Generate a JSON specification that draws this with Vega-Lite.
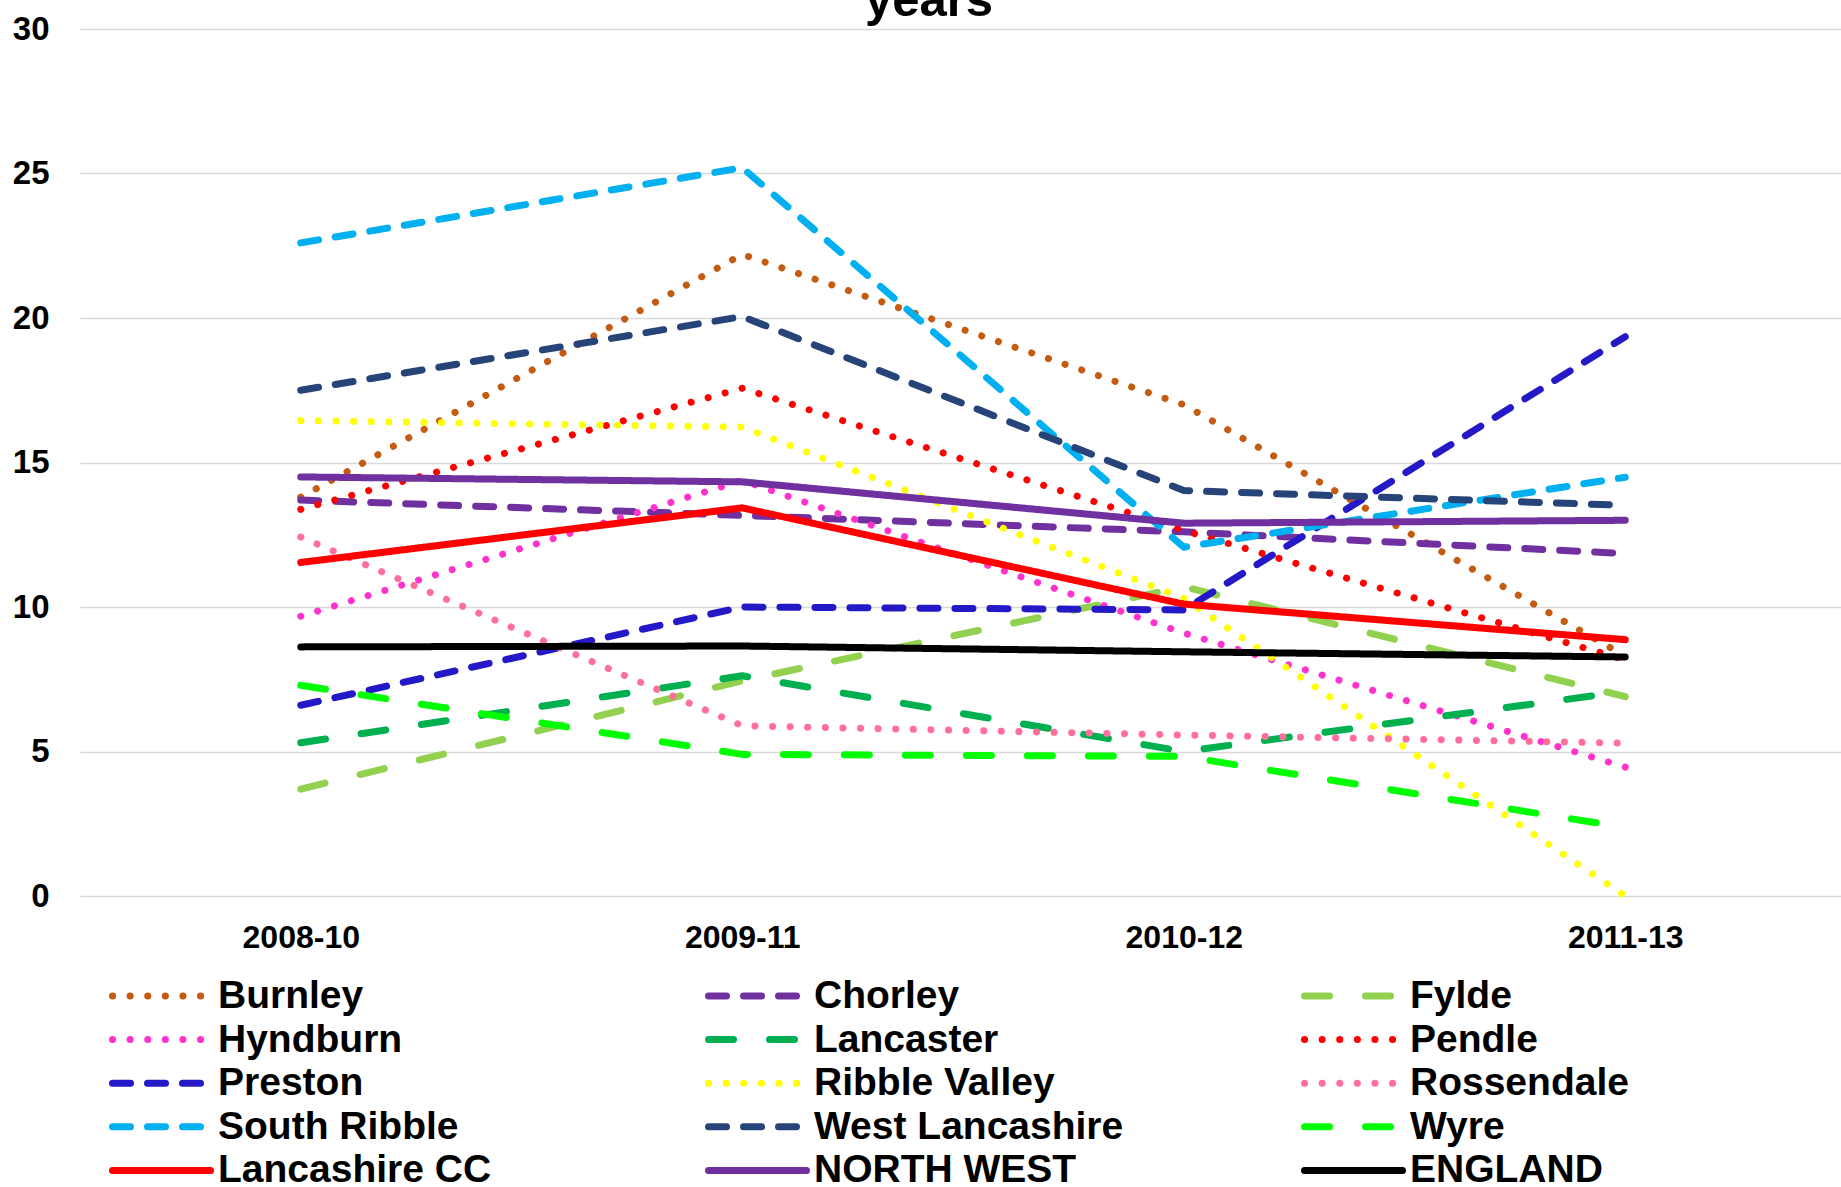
{
  "$schema": "https://vega.github.io/schema/vega-lite/v6.json",
  "width": 1766,
  "height": 867,
  "autosize": {"type": "none"},
  "padding": {"left": 80, "top": 29, "right": 0, "bottom": 291},
  "background": "white",
  "title": {"text": "years", "fontSize": 49, "font": "Liberation Sans", "fontWeight": "bold", "color": "black", "offset": -13, "dx": -34, "anchor": "middle"},
  "config": {
    "view": {"stroke": null},
    "font": "Liberation Sans",
    "legend": {
      "orient": "none",
      "direction": "horizontal",
      "legendX": 29,
      "legendY": 947,
      "columns": 3,
      "symbolType": "stroke",
      "symbolSize": 9604,
      "symbolStrokeWidth": 7,
      "labelFontSize": 39,
      "labelFont": "Liberation Sans",
      "labelFontWeight": "bold",
      "labelColor": "black",
      "labelOffset": 4,
      "columnPadding": 166,
      "rowPadding": 3.6,
      "gridAlign": "all",
      "labelLimit": 0,
      "title": null
    }
  },
  "data": {
    "values": [
      {"series": "Burnley", "period": "2008-10", "value": 13.8},
      {"series": "Burnley", "period": "2009-11", "value": 22.2},
      {"series": "Burnley", "period": "2010-12", "value": 17.0},
      {"series": "Burnley", "period": "2011-13", "value": 8.3},
      {"series": "Chorley", "period": "2008-10", "value": 13.7},
      {"series": "Chorley", "period": "2009-11", "value": 13.17},
      {"series": "Chorley", "period": "2010-12", "value": 12.6},
      {"series": "Chorley", "period": "2011-13", "value": 11.85},
      {"series": "Fylde", "period": "2008-10", "value": 3.7},
      {"series": "Fylde", "period": "2009-11", "value": 7.45},
      {"series": "Fylde", "period": "2010-12", "value": 10.7},
      {"series": "Fylde", "period": "2011-13", "value": 6.9},
      {"series": "Hyndburn", "period": "2008-10", "value": 9.68},
      {"series": "Hyndburn", "period": "2009-11", "value": 14.38},
      {"series": "Hyndburn", "period": "2010-12", "value": 9.1},
      {"series": "Hyndburn", "period": "2011-13", "value": 4.46},
      {"series": "Lancaster", "period": "2008-10", "value": 5.3},
      {"series": "Lancaster", "period": "2009-11", "value": 7.62},
      {"series": "Lancaster", "period": "2010-12", "value": 5.0},
      {"series": "Lancaster", "period": "2011-13", "value": 7.08},
      {"series": "Pendle", "period": "2008-10", "value": 13.38},
      {"series": "Pendle", "period": "2009-11", "value": 17.57},
      {"series": "Pendle", "period": "2010-12", "value": 12.65},
      {"series": "Pendle", "period": "2011-13", "value": 8.17},
      {"series": "Preston", "period": "2008-10", "value": 6.6},
      {"series": "Preston", "period": "2009-11", "value": 10.0},
      {"series": "Preston", "period": "2010-12", "value": 9.9},
      {"series": "Preston", "period": "2011-13", "value": 19.35},
      {"series": "Ribble Valley", "period": "2008-10", "value": 16.45},
      {"series": "Ribble Valley", "period": "2009-11", "value": 16.23},
      {"series": "Ribble Valley", "period": "2010-12", "value": 10.3},
      {"series": "Ribble Valley", "period": "2011-13", "value": 0.0},
      {"series": "Rossendale", "period": "2008-10", "value": 12.42},
      {"series": "Rossendale", "period": "2009-11", "value": 5.89},
      {"series": "Rossendale", "period": "2010-12", "value": 5.57},
      {"series": "Rossendale", "period": "2011-13", "value": 5.29},
      {"series": "South Ribble", "period": "2008-10", "value": 22.6},
      {"series": "South Ribble", "period": "2009-11", "value": 25.2},
      {"series": "South Ribble", "period": "2010-12", "value": 12.07},
      {"series": "South Ribble", "period": "2011-13", "value": 14.49},
      {"series": "West Lancashire", "period": "2008-10", "value": 17.5},
      {"series": "West Lancashire", "period": "2009-11", "value": 20.05},
      {"series": "West Lancashire", "period": "2010-12", "value": 14.03},
      {"series": "West Lancashire", "period": "2011-13", "value": 13.52},
      {"series": "Wyre", "period": "2008-10", "value": 7.29},
      {"series": "Wyre", "period": "2009-11", "value": 4.9},
      {"series": "Wyre", "period": "2010-12", "value": 4.83},
      {"series": "Wyre", "period": "2011-13", "value": 2.37},
      {"series": "Lancashire CC", "period": "2008-10", "value": 11.54},
      {"series": "Lancashire CC", "period": "2009-11", "value": 13.43},
      {"series": "Lancashire CC", "period": "2010-12", "value": 10.1},
      {"series": "Lancashire CC", "period": "2011-13", "value": 8.87},
      {"series": "NORTH WEST", "period": "2008-10", "value": 14.5},
      {"series": "NORTH WEST", "period": "2009-11", "value": 14.33},
      {"series": "NORTH WEST", "period": "2010-12", "value": 12.9},
      {"series": "NORTH WEST", "period": "2011-13", "value": 13.0},
      {"series": "ENGLAND", "period": "2008-10", "value": 8.62},
      {"series": "ENGLAND", "period": "2009-11", "value": 8.65},
      {"series": "ENGLAND", "period": "2010-12", "value": 8.45},
      {"series": "ENGLAND", "period": "2011-13", "value": 8.27}
    ]
  },
  "mark": {"type": "line", "strokeWidth": 7, "strokeCap": "round", "strokeJoin": "round"},
  "encoding": {
    "x": {
      "field": "period", "type": "ordinal",
      "scale": {"type": "point", "padding": 0.5},
      "axis": {"title": null, "labelAngle": 0, "labelFontSize": 32, "labelFont": "Liberation Sans", "labelFontWeight": "bold", "labelColor": "black", "ticks": false, "domain": false, "grid": false, "labelPadding": 26}
    },
    "y": {
      "field": "value", "type": "quantitative",
      "scale": {"domain": [0, 30], "nice": false, "zero": true},
      "axis": {"title": null, "values": [0, 5, 10, 15, 20, 25, 30], "labelFontSize": 33, "labelFont": "Liberation Sans", "labelFontWeight": "bold", "labelColor": "black", "ticks": false, "domain": false, "labelPadding": 31, "gridColor": "#D9D9D9", "gridWidth": 1.5}
    },
    "color": {
      "field": "series", "type": "nominal",
      "scale": {
        "domain": ["Burnley", "Chorley", "Fylde", "Hyndburn", "Lancaster", "Pendle", "Preston", "Ribble Valley", "Rossendale", "South Ribble", "West Lancashire", "Wyre", "Lancashire CC", "NORTH WEST", "ENGLAND"],
        "range": ["#C55A11", "#7030A0", "#92D050", "#FF33CC", "#00B050", "#FF0000", "#2419C6", "#FFFF00", "#FF6F9A", "#00B0F0", "#264478", "#00FF00", "#FF0000", "#7030A0", "#000000"]
      },
      "legend": {"encode": {"symbols": {"update": {"strokeCap": {"value": "round"}, "y": {"value": 20}}}, "labels": {"update": {"y": {"value": 20}}}}}
    },
    "strokeDash": {
      "field": "series", "type": "nominal",
      "scale": {
        "domain": ["Burnley", "Chorley", "Fylde", "Hyndburn", "Lancaster", "Pendle", "Preston", "Ribble Valley", "Rossendale", "South Ribble", "West Lancashire", "Wyre", "Lancashire CC", "NORTH WEST", "ENGLAND"],
        "range": [[0.1, 17.5], [18, 17], [25, 36], [0.1, 17.5], [25, 36], [0.1, 17.5], [18, 17], [0.1, 17.5], [0.1, 17.5], [18, 17], [18, 17], [25, 36], [1, 0], [1, 0], [1, 0]]
      },
      "legend": {"encode": {"symbols": {"update": {"strokeCap": {"value": "round"}, "y": {"value": 20}}}, "labels": {"update": {"y": {"value": 20}}}}}
    }
  }
}
